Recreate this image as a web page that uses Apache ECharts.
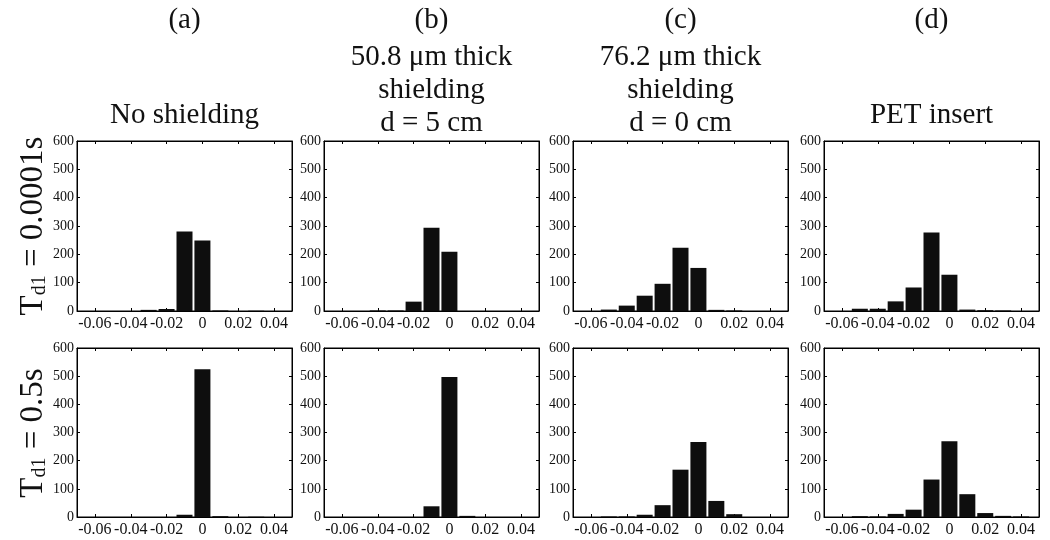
<!DOCTYPE html>
<html>
<head>
<meta charset="utf-8">
<script src="https://cdn.jsdelivr.net/npm/echarts@6/dist/echarts.min.js"></script>
<style>html,body{margin:0;padding:0;background:#fff}#c{width:1050px;height:540px}</style>
</head>
<body>
<div id="c"></div>
<script>
// Bin centres (x values) shared by all histograms
const binCenters = [-0.06, -0.05, -0.04, -0.03, -0.02, -0.01, 0, 0.01, 0.02, 0.03, 0.04];
// Top row: T_d1 = 0.0001s
const a_top = [0, 0, 0, 4, 7, 281, 249, 2, 0, 1, 0];
const b_top = [0, 0, 2, 2, 33, 294, 209, 0, 0, 0, 0];
const c_top = [0, 5, 19, 54, 96, 223, 152, 4, 2, 0, 0];
const d_top = [0, 8, 8, 34, 83, 277, 128, 5, 3, 2, 0];
// Bottom row: T_d1 = 0.5s
const a_bot = [0, 0, 0, 0, 0, 8, 525, 3, 0, 1, 0];
const b_bot = [0, 0, 0, 0, 0, 38, 497, 4, 0, 0, 0];
const c_bot = [0, 2, 2, 8, 42, 168, 266, 57, 10, 0, 0];
const d_bot = [0, 3, 2, 11, 26, 133, 269, 81, 14, 4, 2];
// Tick values
const xTickValues = [-0.06, -0.04, -0.02, 0, 0.02, 0.04];
const yTickValues = [0, 100, 200, 300, 400, 500, 600];
// Text
const columnLetters = ['(a)', '(b)', '(c)', '(d)'];
const columnTitles = [['No shielding'], ['50.8 μm thick', 'shielding', 'd = 5 cm'], ['76.2 μm thick', 'shielding', 'd = 0 cm'], ['PET insert']];
const rowLabelValues = ['0.0001s', '0.5s'];

const panels = [[a_top, b_top, c_top, d_top], [a_bot, b_bot, c_bot, d_bot]];

const FAM = 'Liberation Serif';
const lefts = [77, 324, 573, 824];
const W = 215;
const tops = [141, 348];
const heights = [170, 169];

const grids = [], xAxes = [], yAxes = [], series = [];
let gi = 0;
for (let r = 0; r < 2; r++) {
  for (let c = 0; c < 4; c++) {
    grids.push({left: lefts[c], top: tops[r], width: W, height: heights[r], show: true,
      borderColor: '#000', borderWidth: 1, backgroundColor: '#fff', containLabel: false});
    const xBase = {gridIndex: gi, type: 'value', min: -0.07, max: 0.05,
      splitLine: {show: false},
      axisLine: {show: true, onZero: false, lineStyle: {color: '#000', width: 1}},
      axisTick: {show: true, inside: true, length: 3, customValues: xTickValues, lineStyle: {color: '#000'}}};
    xAxes.push(Object.assign({}, xBase, {position: 'bottom',
      axisLabel: {show: true, customValues: xTickValues, margin: 5, color: '#111', fontFamily: FAM, fontSize: 16,
        formatter: v => (Math.abs(v) < 1e-9 ? '0' : v.toFixed(2))}}));
    xAxes.push(Object.assign({}, xBase, {position: 'top', axisLabel: {show: false}}));
    const yBase = {gridIndex: gi, type: 'value', min: 0, max: 600, interval: 100,
      splitLine: {show: false},
      axisLine: {show: true, onZero: false, lineStyle: {color: '#000', width: 1}},
      axisTick: {show: true, inside: true, length: 3, customValues: yTickValues, lineStyle: {color: '#000'}}};
    yAxes.push(Object.assign({}, yBase, {position: 'left',
      axisLabel: {show: true, customValues: yTickValues, margin: 3, color: '#111', fontFamily: FAM, fontSize: 14}}));
    yAxes.push(Object.assign({}, yBase, {position: 'right', axisLabel: {show: false}}));
    const vals = panels[r][c];
    series.push({type: 'bar', xAxisIndex: gi * 2, yAxisIndex: gi * 2, barWidth: 16,
      data: binCenters.map((x, i) => [x, vals[i]]),
      itemStyle: {color: '#0e0e0e'}, silent: true, animation: false});
    gi++;
  }
}

const graphics = [];
const centers = lefts.map(l => l + W / 2);
const TF = '29px "Liberation Serif", serif';
for (let c = 0; c < 4; c++) {
  graphics.push({type: 'text', x: centers[c], y: 20,
    style: {text: columnLetters[c], font: TF, fill: '#111', align: 'center', verticalAlign: 'middle'}});
  const lines = columnTitles[c];
  if (lines.length === 1) {
    graphics.push({type: 'text', x: centers[c], y: 115,
      style: {text: lines[0], font: TF, fill: '#111', align: 'center', verticalAlign: 'middle'}});
  } else {
    const ys = [57, 90, 123];
    lines.forEach((t, i) => graphics.push({type: 'text', x: centers[c], y: ys[i],
      style: {text: t, font: TF, fill: '#111', align: 'center', verticalAlign: 'middle'}}));
  }
}
const rowY = [226, 433];
for (let r = 0; r < 2; r++) {
  graphics.push({type: 'text', x: 33, y: rowY[r], rotation: Math.PI / 2,
    style: {text: '{t|T}{s|d1}{t| = ' + rowLabelValues[r] + '}', fill: '#111', align: 'center', verticalAlign: 'middle',
      rich: {t: {fontFamily: FAM, fontSize: 33, fill: '#111'},
             s: {fontFamily: FAM, fontSize: 20, fill: '#111', padding: [14, 0, 0, 0]}}}});
}

const chart = echarts.init(document.getElementById('c'), null, {renderer: 'canvas'});
chart.setOption({animation: false, backgroundColor: '#fff', grid: grids, xAxis: xAxes, yAxis: yAxes, series: series, graphic: graphics});
</script>
</body>
</html>
